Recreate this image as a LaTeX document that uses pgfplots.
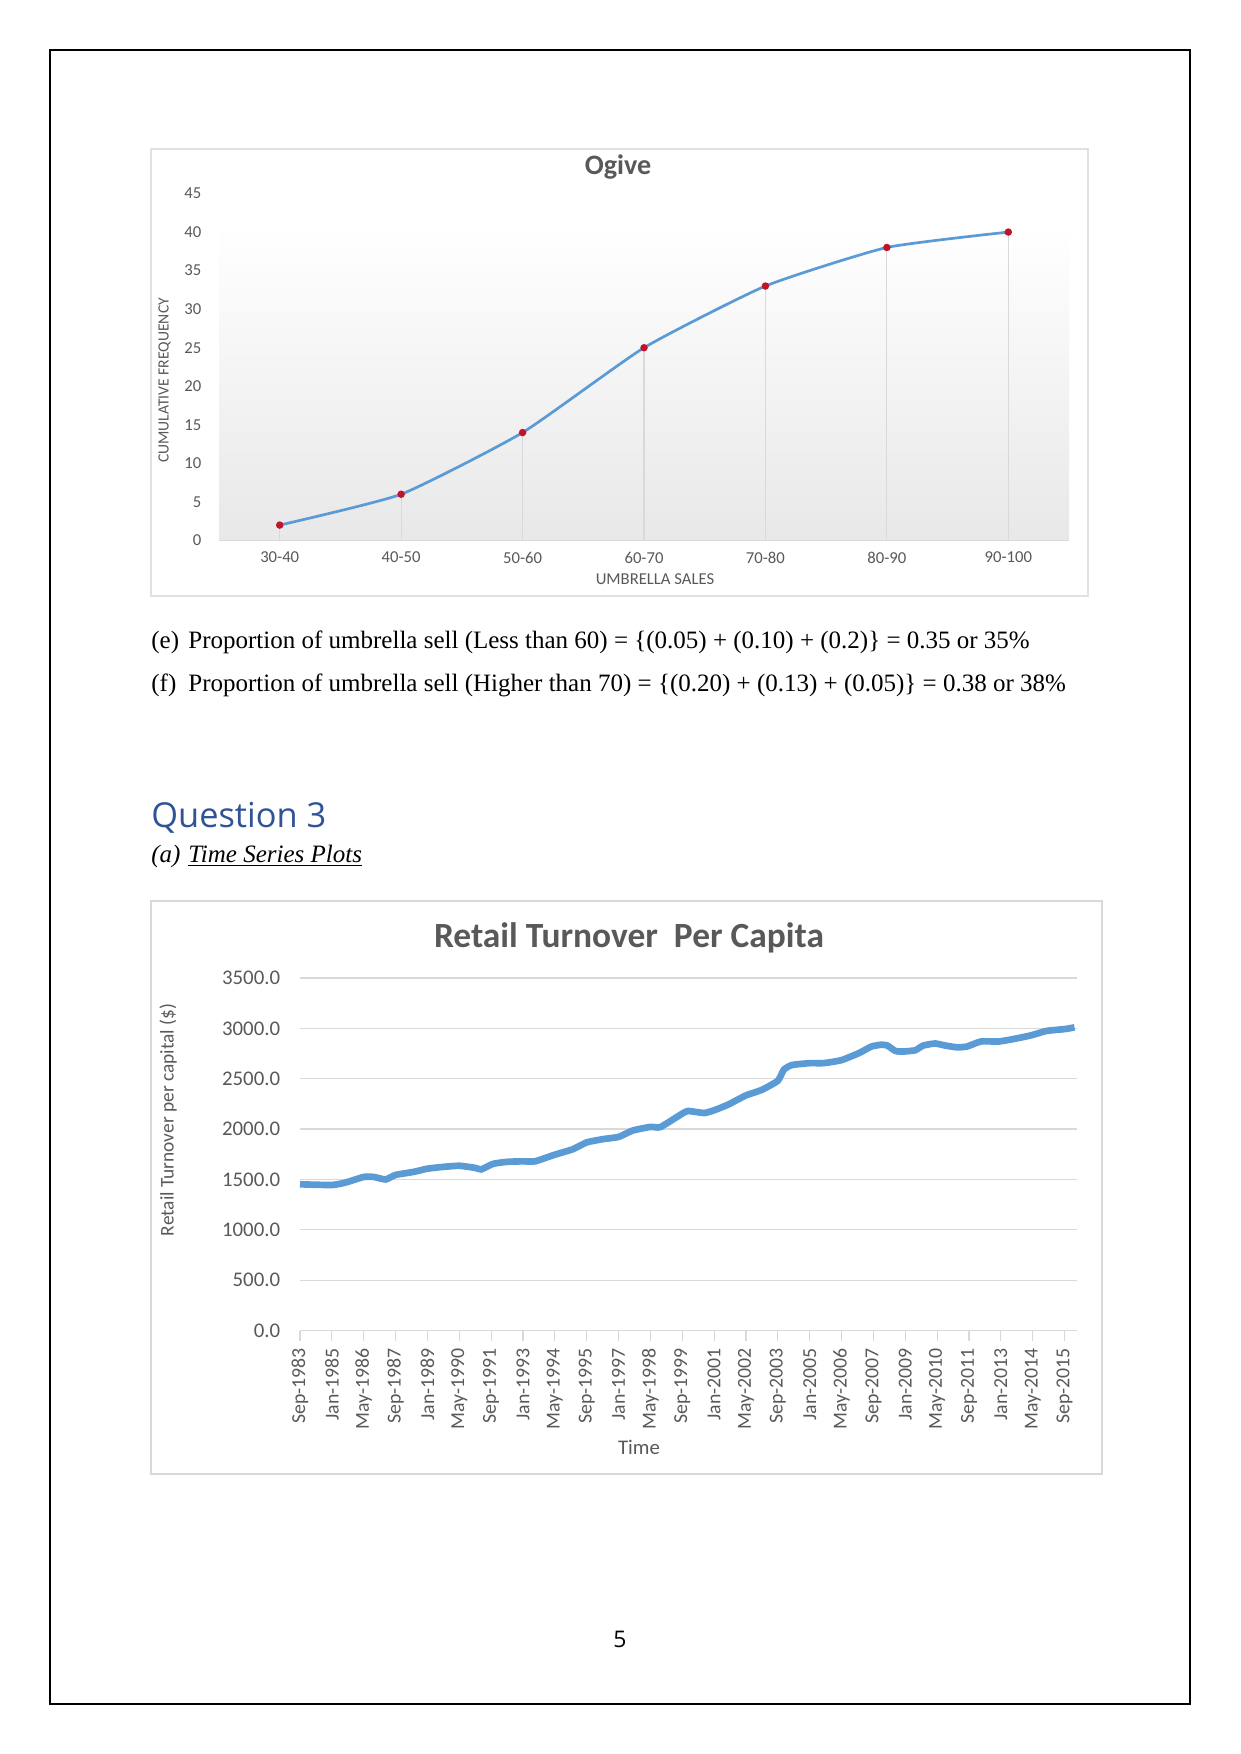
\documentclass[border=0pt]{standalone}
\usepackage{pgfplots}
\pgfplotsset{compat=1.18}
\usepackage{fontspec}
\setmainfont{Liberation Serif}
\newfontfamily\carlito{Carlito}
\newfontfamily\opensans{Open Sans}
\definecolor{xlblue}{HTML}{5B9BD5}
\definecolor{txtgray}{HTML}{595959}
\definecolor{gridgray}{HTML}{D9D9D9}
\definecolor{headblue}{HTML}{2F5496}
\definecolor{mkred}{HTML}{C0142B}
\begin{document}
\begin{tikzpicture}
% page
\begin{scope}[x=0.48pt,y=-0.48pt]
\fill[white] (0,0) rectangle (1241,1754);
\draw[black, line width=0.6pt] (50,50) rectangle (1190,1704);
% chart boxes
\draw[gridgray!80, line width=0.6pt] (151,149) rectangle (1088,596);
\draw[gridgray, line width=0.8pt] (151,901) rectangle (1102,1474);
% ogive texts
\node[font=\carlito\bfseries\fontsize{13.5}{15}\selectfont, text=txtgray] at (618,167) {Ogive};
\node[font=\carlito\fontsize{8}{9}\selectfont, text=txtgray] at (655,579) {UMBRELLA SALES};
\node[font=\carlito\fontsize{7.5}{9}\selectfont, text=txtgray, rotate=90] at (164.5,380.5) {CUMULATIVE FREQUENCY};
% body text
\node[anchor=west, inner sep=0pt, font=\fontsize{12}{14}\selectfont] at (151,642) {(e)};
\node[anchor=west, inner sep=0pt, font=\fontsize{12}{14}\selectfont] at (188,642) {Proportion of umbrella sell (Less than 60) = \{(0.05) + (0.10) + (0.2)\} = 0.35 or 35\%};
\node[anchor=west, inner sep=0pt, font=\fontsize{12}{14}\selectfont] at (151,685) {(f)};
\node[anchor=west, inner sep=0pt, font=\fontsize{12}{14}\selectfont] at (188,685) {Proportion of umbrella sell (Higher than 70) = \{(0.20) + (0.13) + (0.05)\} = 0.38 or 38\%};
\node[anchor=west, inner sep=0pt, font=\opensans\fontsize{16.5}{18}\selectfont, text=headblue] at (151,818) {Question 3};
\node[anchor=west, inner sep=0pt, font=\itshape\fontsize{12}{14}\selectfont] at (151,856) {(a)};
\node[anchor=west, inner sep=0pt, font=\itshape\fontsize{12}{14}\selectfont] at (188,856) {\underline{Time Series Plots}};
% retail texts
\node[font=\carlito\bfseries\fontsize{17}{19}\selectfont, text=txtgray] at (629,938) {Retail Turnover\ \ Per Capita};
\node[font=\carlito\fontsize{9.3}{11}\selectfont, text=txtgray, rotate=90] at (168,1120) {Retail Turnover per capital (\$)};
\node[font=\carlito\fontsize{10}{12}\selectfont, text=txtgray] at (639,1447) {Time};
% page number
\node[font=\opensans\fontsize{11}{13}\selectfont] at (620,1639) {5};
\end{scope}

% ---------- Ogive ----------
\begin{axis}[
  at={(105.12pt,-259.44pt)}, anchor=south west,
  scale only axis, width=408pt, height=166.56pt,
  xmin=-0.5, xmax=6.5, ymin=0, ymax=45,
  xtick={0,...,6},
  xticklabels={30-40,40-50,50-60,60-70,70-80,80-90,90-100},
  ytick={0,5,...,45},
  axis line style={draw=none},
  tick style={draw=none},
  tick label style={font=\carlito\fontsize{8}{9}\selectfont, text=txtgray},
  /pgf/number format/assume math mode=true,
  yticklabel style={xshift=-5pt},
  xticklabel style={yshift=-2pt},
  clip=false,
]
\fill[top color=white, bottom color=black!9] (axis cs:-0.5,0) rectangle (axis cs:6.5,41);
\draw[gridgray, line width=0.8pt] (axis cs:-0.5,0) -- (axis cs:6.5,0);
\addplot[ycomb, gridgray, line width=0.5pt, no marks] coordinates {
(0,2) (1,6) (2,14) (3,25) (4,33) (5,38) (6,40)};
\addplot[xlblue, line width=1.3pt, smooth, tension=0.3, mark=*, mark size=1.1pt,
  mark options={fill=mkred, draw=mkred}] coordinates {
(0,2) (1,6) (2,14) (3,25) (4,33) (5,38) (6,40)};
\end{axis}

% ---------- Retail ----------
\begin{axis}[
  at={(144pt,-638.64pt)}, anchor=south west,
  scale only axis, width=372.72pt, height=169.2pt,
  xmin=0, xmax=390, ymin=0, ymax=3500,
  ytick={0,500,...,3500},
  xtick={0,16,...,384},
  xticklabels={Sep-1983,Jan-1985,May-1986,Sep-1987,Jan-1989,May-1990,Sep-1991,Jan-1993,May-1994,Sep-1995,Jan-1997,May-1998,Sep-1999,Jan-2001,May-2002,Sep-2003,Jan-2005,May-2006,Sep-2007,Jan-2009,May-2010,Sep-2011,Jan-2013,May-2014,Sep-2015},
  axis line style={draw=none},
  ytick style={draw=none},
  xtick style={draw=gridgray, line width=0.6pt},
  xtick pos=bottom, xtick align=outside, major tick length=5pt,
  ymajorgrids, grid style={gridgray, line width=0.6pt},
  tick label style={font=\carlito\fontsize{10}{12}\selectfont, text=txtgray},
  /pgf/number format/assume math mode=true,
  /pgf/number format/fixed,
  /pgf/number format/fixed zerofill,
  /pgf/number format/precision=1,
  /pgf/number format/1000 sep={},
  yticklabel style={xshift=-6pt},
  xticklabel style={rotate=90, anchor=east, font=\carlito\fontsize{9.5}{11}\selectfont},
  clip=false,
]
\draw[gridgray, line width=0.8pt] (axis cs:0,0) -- (axis cs:390,0);
\addplot[xlblue, line width=3.2pt, smooth, tension=0.3, no marks] coordinates {
(0,1452) (16,1445) (23,1470) (32,1525) (37,1525) (43,1500) (48,1545)
(57,1575) (64,1607) (72,1625) (80,1636) (88,1615) (91,1600) (97,1655)
(104,1675) (112,1680) (118,1680) (128,1746) (137,1800) (144,1868)
(152,1900) (160,1922) (167,1985) (176,2022) (181,2020) (192,2154)
(195,2180) (203,2160) (208,2187) (215,2243) (224,2335) (232,2390)
(240,2480) (243,2590) (247,2636) (256,2655) (263,2655) (272,2685)
(281,2757) (287,2820) (292,2838) (295,2830) (299,2776) (303,2770)
(309,2783) (313,2830) (319,2850) (324,2830) (330,2812) (335,2820)
(342,2870) (351,2870) (358,2893) (367,2930) (375,2975) (384,2993) (389,3010)};
\end{axis}
\end{tikzpicture}
\end{document}
